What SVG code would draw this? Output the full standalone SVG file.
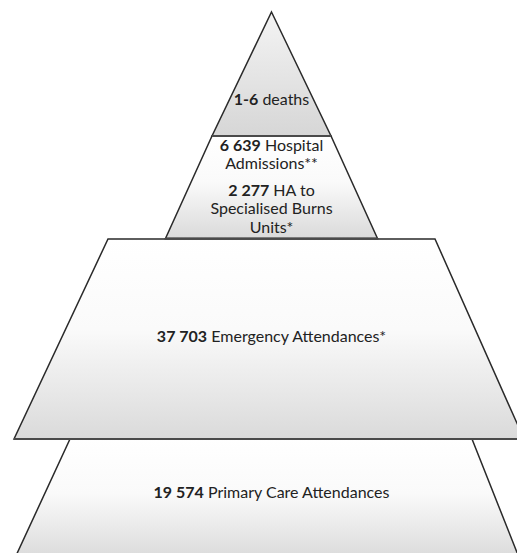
<svg xmlns="http://www.w3.org/2000/svg" width="517" height="553" viewBox="0 0 517 553">
<defs>
<linearGradient id="gTop" x1="0" y1="0" x2="0" y2="1">
<stop offset="0" stop-color="#f4f4f4"/><stop offset="1" stop-color="#d6d6d6"/>
</linearGradient>
<linearGradient id="gLayer" x1="0" y1="0" x2="0" y2="1">
<stop offset="0" stop-color="#ffffff"/><stop offset="0.45" stop-color="#fafafa"/><stop offset="1" stop-color="#dadada"/>
</linearGradient>
<style>
.shape{stroke:#2a2a2a;stroke-width:1.5;stroke-linejoin:miter}
.sep{stroke:#4a4a4a;stroke-width:2}
text{font-family:Lato,"Open Sans","Liberation Sans",sans-serif;font-size:16px;fill:#222;text-anchor:middle}
.b{font-weight:bold}
</style>
</defs>
<rect width="517" height="553" fill="#ffffff"/>
<g id="primary-care">
<polygon class="shape" fill="url(#gLayer)" points="70,439 472,439 520,560 14,560"/>
<text x="271.5" y="498"><tspan class="b">19 574</tspan> Primary Care Attendances</text>
</g>
<g id="emergency">
<polygon class="shape" fill="url(#gLayer)" points="108,239 435,239 524,439 14,439"/>
<line class="sep" x1="14" y1="439" x2="517" y2="439"/>
<text x="271.5" y="342"><tspan class="b">37 703</tspan> Emergency Attendances*</text>
</g>
<g id="hospital">
<polygon class="shape" fill="url(#gLayer)" points="212,136 331,136 377.5,238.5 165.5,238.5"/>
<line class="sep" x1="165" y1="238.5" x2="378" y2="238.5"/>
<text x="271.5" y="151"><tspan class="b">6 639</tspan> Hospital</text>
<text x="271.5" y="169">Admissions**</text>
<text x="271.5" y="196"><tspan class="b">2 277</tspan> HA to</text>
<text x="271.5" y="214">Specialised Burns</text>
<text x="271.5" y="233">Units*</text>
</g>
<g id="deaths">
<polygon class="shape" fill="url(#gTop)" points="271.5,12 331,136 212,136"/>
<line class="sep" x1="212" y1="136" x2="331" y2="136"/>
<text x="271.5" y="105"><tspan class="b">1-6</tspan> deaths</text>
</g>
<g id="connectors"/>
</svg>
